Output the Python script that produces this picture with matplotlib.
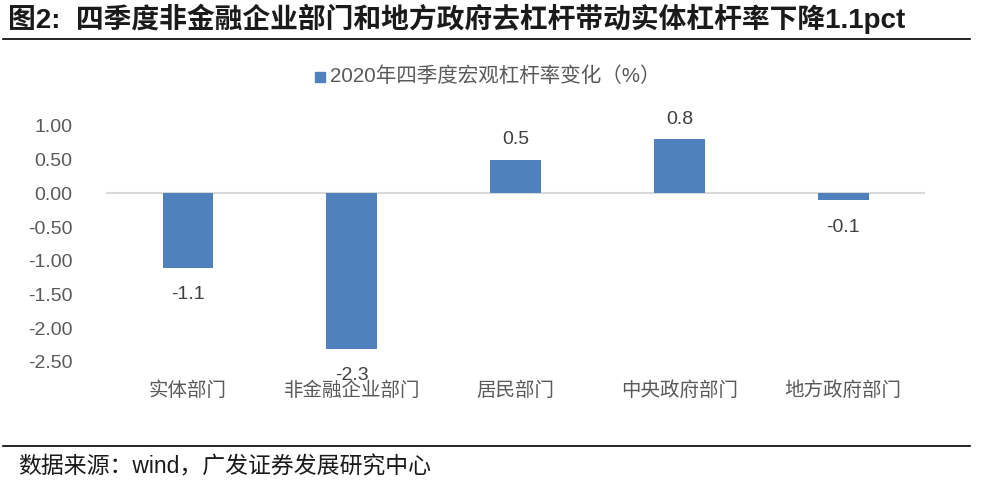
import matplotlib
matplotlib.use('Agg')
from matplotlib import pyplot as plt
import numpy as np

plt.rcParams['font.family'] = ['Liberation Sans', 'Noto Sans CJK SC', 'DejaVu Sans']

categories = ['实体部门', '非金融企业部门', '居民部门', '中央政府部门', '地方政府部门']
values = [-1.1, -2.3, 0.5, 0.8, -0.1]
value_labels = ['-1.1', '-2.3', '0.5', '0.8', '-0.1']
yticks = [1.0, 0.5, 0.0, -0.5, -1.0, -1.5, -2.0, -2.5]
series_name = '2020年四季度宏观杠杆率变化（%）'
title = '图2:  四季度非金融企业部门和地方政府去杠杆带动实体杠杆率下降1.1pct'
source = '数据来源：wind，广发证券发展研究中心'

bar_color = '#4F81BD'
text_color = '#595959'

fig = plt.figure(figsize=(9.87, 4.95), dpi=100)
ax = fig.add_axes([0.1074, 0.2687, 0.830, 0.4768])

x = np.arange(len(categories))
ax.bar(x, values, width=0.31, color=bar_color, zorder=3)
ax.axhline(0, color='#D9D9D9', linewidth=1.5, zorder=2)

for xi, v, lab in zip(x, values, value_labels):
    if v >= 0:
        ax.text(xi, v + 0.17, lab, ha='center', va='bottom', fontsize=14,
                color='#404040', clip_on=False)
    else:
        ax.text(xi, v - 0.28, lab, ha='center', va='top', fontsize=14,
                color='#404040', clip_on=False)

ax.set_xlim(-0.5, len(categories) - 0.5)
ax.set_ylim(-2.5, 1.0)
ax.set_yticks(yticks)
ax.set_yticklabels(['%.2f' % t for t in yticks], fontsize=14, color=text_color)
ax.tick_params(axis='y', length=0, pad=24)
ax.set_xticks(x)
ax.set_xticklabels(categories, fontsize=14, color=text_color)
ax.tick_params(axis='x', length=0, pad=14)
for s in ax.spines.values():
    s.set_visible(False)

# legend
fig.patches.append(plt.Rectangle((315 / 987, 1 - 82 / 495), 10 / 987, 10 / 495,
                                 transform=fig.transFigure, color=bar_color))
fig.text(330 / 987, 1 - 76 / 495, series_name, fontsize=14.8, color=text_color,
         va='center', ha='left')

# title, rules, source
fig.text(8 / 987, 1 - 19 / 495, title, fontsize=20, fontweight='bold',
         color='#1a1a1a', va='center', ha='left')
fig.add_artist(plt.Line2D([3 / 987, 970 / 987], [1 - 39 / 495, 1 - 39 / 495],
                          color='black', linewidth=1.2))
fig.add_artist(plt.Line2D([3 / 987, 970 / 987], [1 - 446 / 495, 1 - 446 / 495],
                          color='black', linewidth=1.2))
fig.text(18 / 987, 1 - 467 / 495, source, fontsize=16.5, color='#1a1a1a',
         va='center', ha='left')

fig.savefig('out.png', dpi=100)
